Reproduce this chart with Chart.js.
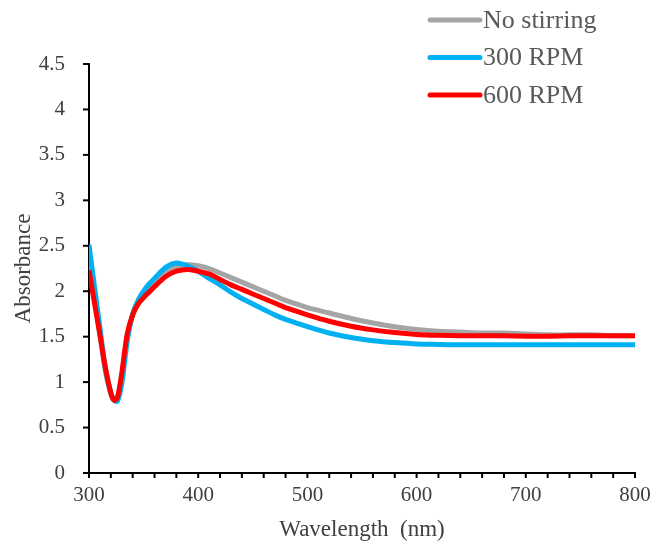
<!DOCTYPE html>
<html>
<head>
<meta charset="utf-8">
<script src="https://cdn.jsdelivr.net/npm/chart.js@4"></script>
<style>
  html, body { margin: 0; padding: 0; background: #fff; }
  #wrap { width: 655px; height: 548px; position: relative; }
</style>
</head>
<body>
<div id="wrap"><canvas id="chart" width="655" height="548"></canvas></div>
<script>
const wavelengths = [300, 305, 310, 315, 320, 323, 326, 330, 335, 340, 345, 350, 355, 360, 370, 380, 390, 400, 410, 420, 430, 440, 450, 460, 470, 480, 490, 500, 520, 540, 560, 580, 600, 620, 640, 660, 680, 700, 720, 740, 760, 780, 800];

const noStirring = [2.35, 1.95, 1.52, 1.12, 0.87, 0.80, 0.82, 1.05, 1.5, 1.74, 1.87, 1.95, 2.02, 2.09, 2.2, 2.27, 2.29, 2.28, 2.25, 2.2, 2.15, 2.1, 2.05, 2.0, 1.95, 1.9, 1.86, 1.82, 1.76, 1.7, 1.65, 1.61, 1.58, 1.56, 1.55, 1.54, 1.54, 1.53, 1.52, 1.52, 1.52, 1.51, 1.51];
const rpm300 = [2.51, 2.05, 1.6, 1.15, 0.88, 0.80, 0.79, 0.98, 1.45, 1.75, 1.9, 2.0, 2.08, 2.14, 2.26, 2.31, 2.28, 2.22, 2.14, 2.07, 1.99, 1.92, 1.86, 1.8, 1.74, 1.69, 1.65, 1.61, 1.54, 1.49, 1.455, 1.435, 1.42, 1.415, 1.41, 1.41, 1.41, 1.41, 1.41, 1.41, 1.41, 1.41, 1.41];
const rpm600 = [2.23, 1.87, 1.52, 1.16, 0.88, 0.80, 0.83, 1.1, 1.53, 1.74, 1.86, 1.93, 1.99, 2.05, 2.16, 2.22, 2.24, 2.22, 2.19, 2.13, 2.07, 2.02, 1.97, 1.92, 1.87, 1.82, 1.78, 1.74, 1.67, 1.615, 1.575, 1.545, 1.525, 1.515, 1.51, 1.51, 1.51, 1.505, 1.505, 1.51, 1.51, 1.51, 1.51];

const seriesNames = ["No stirring", "300 RPM", "600 RPM"];
const seriesColors = ["#a5a5a5", "#00b0f0", "#ff0000"];
const seriesValues = [noStirring, rpm300, rpm600];

const xMajor = [300, 400, 500, 600, 700, 800];

const toPoints = (vals) => wavelengths.map((w, i) => ({ x: w, y: vals[i] }));

// drawn last = on top, so red goes first in the list
const datasets = [2, 1, 0].map((k) => ({
  label: seriesNames[k],
  data: toPoints(seriesValues[k]),
  borderColor: seriesColors[k],
  backgroundColor: seriesColors[k],
  borderWidth: 5,
  pointRadius: 0,
  tension: 0.3,
  fill: false,
}));

const serif = "'Liberation Serif', 'Times New Roman', serif";
const textColor = "#404040";

// legend in the top right corner, drawn by hand
const legendPlugin = {
  id: "cornerLegend",
  afterDraw(chart) {
    const c = chart.ctx;
    c.save();
    c.font = "26px " + serif;
    c.textBaseline = "middle";
    seriesNames.forEach((name, i) => {
      const y = 20 + i * 37.5;
      c.strokeStyle = seriesColors[i];
      c.lineWidth = 5;
      c.lineCap = "round";
      c.beginPath();
      c.moveTo(430, y);
      c.lineTo(480, y);
      c.stroke();
      c.fillStyle = "#595959";
      c.fillText(name, 483, y + 1);
    });
    c.restore();
  },
};

// outward tick marks on both axes
const tickPlugin = {
  id: "tickMarks",
  afterDraw(chart) {
    const c = chart.ctx;
    try {
      const xs = chart.scales.x;
      const ys = chart.scales.y;
      const area = chart.chartArea;
      c.save();
      c.strokeStyle = "#000000";
      c.lineWidth = 2;
      c.lineCap = "butt";
      for (let v = 300; v <= 800; v += 20) {
        const px = xs.getPixelForValue(v);
        c.beginPath();
        c.moveTo(px, area.bottom);
        c.lineTo(px, area.bottom + 5);
        c.stroke();
      }
      for (let v = 0; v <= 4.5; v += 0.5) {
        const py = ys.getPixelForValue(v);
        c.beginPath();
        c.moveTo(area.left, py);
        c.lineTo(area.left - 6, py);
        c.stroke();
      }
      c.restore();
    } catch (e) {
      c.fillStyle = "#f00";
      c.font = "14px sans-serif";
      c.fillText(String(e), 100, 150);
    }
  },
};

new Chart(document.getElementById("chart"), {
  type: "line",
  data: { datasets },
  plugins: [legendPlugin, tickPlugin],
  options: {
    responsive: false,
    animation: false,
    layout: { padding: { top: 64, right: 20, left: 0, bottom: 0 } },
    plugins: { legend: { display: false }, tooltip: { enabled: false } },
    scales: {
      x: {
        type: "linear",
        min: 300,
        max: 800,
        afterFit: (s) => { s.height = 75; },
        ticks: {
          stepSize: 20,
          autoSkip: false,
          maxRotation: 0,
          padding: 4,
          color: textColor,
          font: { family: serif, size: 21 },
          callback: (v) => (xMajor.includes(v) ? String(v) : ""),
        },
        grid: { display: false, tickLength: 6 },
        border: { display: true, color: "#000", width: 2 },
        title: {
          display: true,
          text: "Wavelength  (nm)",
          color: textColor,
          font: { family: serif, size: 23 },
          padding: { top: 0, bottom: 4 },
        },
      },
      y: {
        min: 0,
        max: 4.5,
        afterFit: (s) => { s.width = 89; },
        ticks: {
          stepSize: 0.5,
          padding: 16,
          color: textColor,
          font: { family: serif, size: 21 },
          callback: (v) => String(Math.round(v * 10) / 10),
        },
        grid: { display: false },
        border: { display: true, color: "#000", width: 2 },
        title: {
          display: true,
          text: "Absorbance",
          color: textColor,
          font: { family: serif, size: 23 },
          padding: { top: 10, bottom: 0 },
        },
      },
    },
  },
});
</script>
</body>
</html>
